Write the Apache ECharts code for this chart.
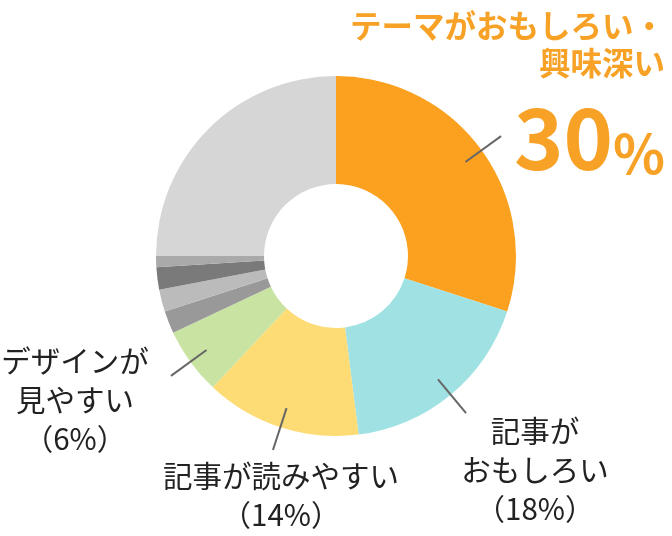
<!DOCTYPE html>
<html>
<head>
<meta charset="utf-8">
<script src="https://cdn.jsdelivr.net/npm/echarts@6/dist/echarts.min.js"></script>
<style>
html,body{margin:0;padding:0;background:#fff;}
#c{width:672px;height:536px;}
</style>
</head>
<body>
<div id="c"></div>
<script>
const categories = ['テーマがおもしろい・興味深い', '記事がおもしろい', '記事が読みやすい', 'デザインが見やすい', 'その他A', 'その他B', 'その他C', 'その他D', 'その他E'];
const values = [30, 18, 14, 6, 2, 2, 2, 1, 25];
const colors = ['#FBA11F', '#A0E2E3', '#FDDC76', '#C9E3A2', '#999999', '#BBBBBB', '#7A7A7A', '#AAAAAA', '#D6D6D6'];
const labelTexts = [
  '{t|テーマがおもしろい・}\n{t|興味深い}\n{n|30}{p|%}',
  '記事が\nおもしろい\n（18%）',
  '記事が読みやすい\n（14%）',
  'デザインが\n見やすい\n（6%）',
  '', '', '', '', ''
];
const labeled = [true, true, true, true, false, false, false, false, false];
// label anchor placement (x, y, align, verticalAlign)
const labelPlace = [
  {x: 665, y: 8, align: 'right', verticalAlign: 'top'},
  {x: 535, y: 470, align: 'center', verticalAlign: 'middle'},
  {x: 281, y: 495, align: 'center', verticalAlign: 'middle'},
  {x: 75, y: 400, align: 'center', verticalAlign: 'middle'},
  null, null, null, null, null
];

const FONT = '"Noto Sans CJK JP", "Noto Sans", sans-serif';
const orange = '#F7A226';

const mainData = categories.map((name, i) => ({
  name: name,
  value: values[i],
  itemStyle: {color: colors[i]},
  label: {show: labeled[i], formatter: labelTexts[i]}
}));
const lineData = categories.map((name, i) => ({
  name: name,
  value: values[i],
  label: {show: labeled[i]},
  labelLine: {show: labeled[i]}
}));

const chart = echarts.init(document.getElementById('c'), null, {renderer: 'canvas'});
chart.setOption({
  animation: false,
  backgroundColor: '#ffffff',
  series: [
    {
      type: 'pie',
      center: [336, 256],
      radius: [72, 180],
      startAngle: 90,
      clockwise: true,
      avoidLabelOverlap: false,
      silent: true,
      emphasis: {disabled: true},
      label: {
        position: 'outside',
        fontFamily: FONT,
        fontSize: 29.5,
        lineHeight: 39,
        color: '#222222',
        fontWeight: 'normal',
        rich: {
          t: {fontFamily: FONT, fontSize: 31.5, lineHeight: 37, fontWeight: 'bold', color: orange},
          n: {fontFamily: FONT, fontSize: 84, lineHeight: 98, fontWeight: 'bold', color: orange, verticalAlign: 'bottom'},
          p: {fontFamily: FONT, fontSize: 54, lineHeight: 98, fontWeight: 'bold', color: orange, verticalAlign: 'bottom'}
        }
      },
      labelLine: {show: false},
      labelLayout: function (params) {
        const p = labelPlace[params.dataIndex];
        if (!p) return {};
        return {x: p.x, y: p.y, align: p.align, verticalAlign: p.verticalAlign};
      },
      data: mainData
    },
    {
      type: 'pie',
      z: 5,
      center: [336, 256],
      radius: [0, 160],
      startAngle: 90,
      clockwise: true,
      avoidLabelOverlap: false,
      silent: true,
      emphasis: {disabled: true},
      itemStyle: {color: 'rgba(0,0,0,0)'},
      label: {position: 'outside', formatter: ' ', fontSize: 1, color: 'rgba(0,0,0,0)'},
      labelLine: {length: 44, length2: 0, smooth: false, lineStyle: {color: '#666666', width: 2}},
      data: lineData
    }
  ]
});
</script>
</body>
</html>
